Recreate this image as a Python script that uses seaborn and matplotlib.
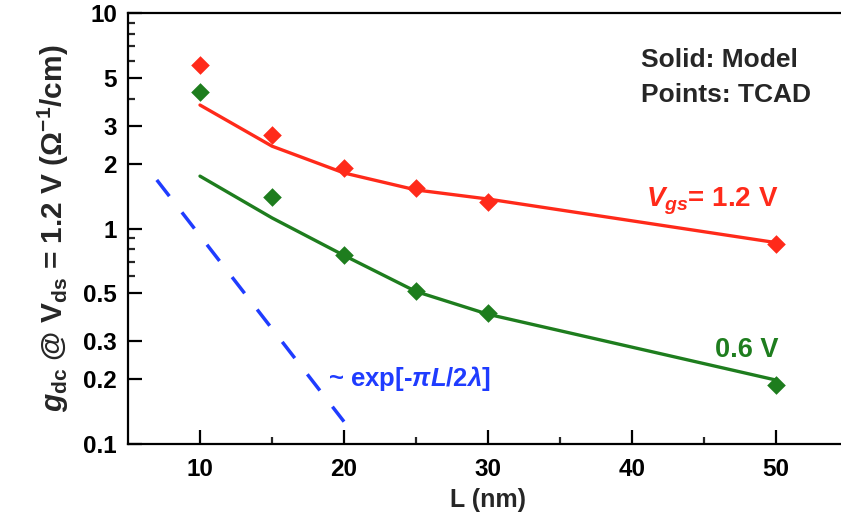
import numpy as np
import pandas as pd
import matplotlib
matplotlib.use("Agg")
import matplotlib.pyplot as plt
from matplotlib.ticker import FixedLocator, NullFormatter, FixedFormatter
import seaborn as sns

# ---- data ----
L_nm = [10, 15, 20, 25, 30, 50]
model_12 = [3.74, 2.41, 1.81, 1.51, 1.37, 0.86]
tcad_12 = [5.74, 2.72, 1.91, 1.54, 1.33, 0.85]
model_06 = [1.75, 1.12, 0.75, 0.51, 0.40, 0.198]
tcad_06 = [4.30, 1.40, 0.754, 0.513, 0.405, 0.188]
exp_L = [7.0, 20.0]
exp_g = [1.68, 0.127]

x_ticks = [10, 20, 30, 40, 50]
x_minor = [15, 25, 35, 45]
y_ticks = [0.1, 0.2, 0.3, 0.5, 1, 2, 3, 5, 10]
y_tick_labels = ["0.1", "0.2", "0.3", "0.5", "1", "2", "3", "5", "10"]
y_minor = [0.6, 0.7, 0.8, 0.9, 4, 6, 7, 8, 9]

RED = "#ff2a1a"
GREEN = "#1e7d1e"
BLUE = "#1f3cff"

sns.set_style("ticks")
plt.rcParams["font.family"] = ["Liberation Sans", "DejaVu Sans"]
plt.rcParams["font.weight"] = "bold"
plt.rcParams["mathtext.fontset"] = "custom"
plt.rcParams["mathtext.rm"] = "Liberation Sans:bold"
plt.rcParams["mathtext.it"] = "Liberation Sans:bold:italic"
plt.rcParams["mathtext.bf"] = "Liberation Sans:bold"

fig = plt.figure(figsize=(8.41, 5.25), dpi=100)
ax = fig.add_axes([128 / 841, 81 / 525, 720 / 841, 431 / 525])

df12 = pd.DataFrame({"L": L_nm, "model": model_12, "tcad": tcad_12})
df06 = pd.DataFrame({"L": L_nm, "model": model_06, "tcad": tcad_06})
dfexp = pd.DataFrame({"L": exp_L, "g": exp_g})

sns.lineplot(data=df12, x="L", y="model", color=RED, linewidth=2.4, ax=ax, sort=False)
sns.lineplot(data=df06, x="L", y="model", color=GREEN, linewidth=2.4, ax=ax, sort=False)
sns.scatterplot(data=df12, x="L", y="tcad", color=RED, marker="D", s=90, linewidth=0, ax=ax, zorder=3)
sns.scatterplot(data=df06, x="L", y="tcad", color=GREEN, marker="D", s=90, linewidth=0, ax=ax, zorder=3)
sns.lineplot(data=dfexp, x="L", y="g", color=BLUE, linewidth=2.5, ax=ax, sort=False)
ax.lines[-1].set_dashes((5.9, 5.9))

ax.set_yscale("log")
ax.set_xlim(5, 55)
ax.set_ylim(0.1, 10)

ax.xaxis.set_major_locator(FixedLocator(x_ticks))
ax.xaxis.set_minor_locator(FixedLocator(x_minor))
ax.yaxis.set_major_locator(FixedLocator(y_ticks))
ax.yaxis.set_major_formatter(FixedFormatter(y_tick_labels))
ax.yaxis.set_minor_locator(FixedLocator(y_minor))
ax.yaxis.set_minor_formatter(NullFormatter())

ax.tick_params(axis="both", which="major", direction="in", length=10, width=1.6,
               labelsize=17.5, colors="black")
ax.tick_params(axis="x", which="major", pad=10)
ax.tick_params(axis="y", which="major", pad=8)
ax.tick_params(axis="both", which="minor", direction="in", length=5, width=1.6)
for lab in ax.get_xticklabels() + ax.get_yticklabels():
    lab.set_fontweight("bold")

for side in ["left", "bottom", "top", "right"]:
    ax.spines[side].set_visible(True)
    ax.spines[side].set_linewidth(1.6)
    ax.spines[side].set_color("black")

ax.set_xlabel("L (nm)", fontsize=18, fontweight="bold", labelpad=5)
ax.set_ylabel(r"$g_{\mathrm{dc}}$ @ V$_{\mathrm{ds}}$ = 1.2 V ($\Omega^{-1}$/cm)",
              fontsize=21.5, fontweight="bold", labelpad=9)

ax.text(0.7125, 0.891, "Solid: Model", transform=ax.transAxes, fontsize=19,
        fontweight="bold", ha="left", va="center")
ax.text(0.7125, 0.810, "Points: TCAD", transform=ax.transAxes, fontsize=19,
        fontweight="bold", ha="left", va="center")
ax.text(0.903, 0.55, r"$V_{gs}$= 1.2 V", transform=ax.transAxes, fontsize=20,
        color=RED, ha="right", va="baseline")
ax.text(0.903, 0.202, "0.6 V", transform=ax.transAxes, fontsize=19.5,
        color=GREEN, fontweight="bold", ha="right", va="baseline")
ax.text(0.278, 0.1346, r"~ exp[-$\pi L/2\lambda$]", transform=ax.transAxes,
        fontsize=18.5, color=BLUE, fontweight="bold", ha="left", va="baseline")

fig.savefig("out.png", dpi=100)
